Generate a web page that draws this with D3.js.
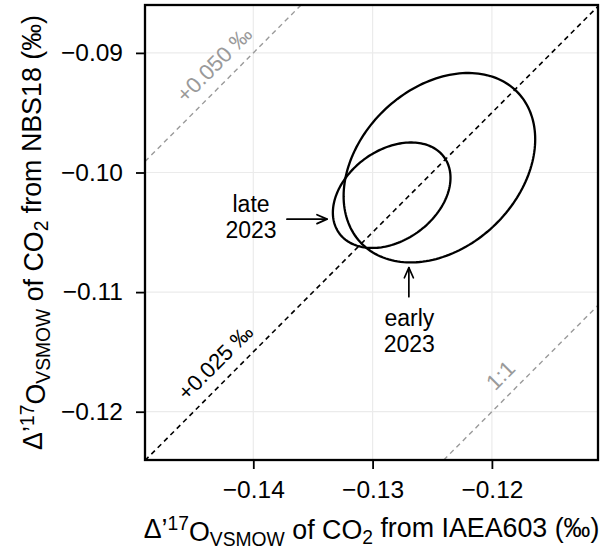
<!DOCTYPE html>
<html>
<head>
<meta charset="utf-8">
<script src="https://cdn.jsdelivr.net/npm/d3@7"></script>
<style>
  body { margin: 0; background: #fff; }
  text { font-family: "Liberation Sans", Arial, Helvetica, sans-serif; }
</style>
</head>
<body>
<svg id="chart" width="600" height="550"></svg>
<script>
// Axis ticks
const xTicks = [-0.14, -0.13, -0.12];
const yTicks = [-0.12, -0.11, -0.10, -0.09];

// Reference lines y = x + offset
const lineOffsets = [0, 0.025, 0.05];
const lineLabels = ["1:1", "+0.025 \u2030", "+0.050 \u2030"];
const lineLabelX = [-0.11811, -0.14202, -0.14212];
const lineColors = ["#9a9a9a", "#000000", "#9a9a9a"];

// Confidence ellipses per measurement period
const periods = ["early 2023", "late 2023"];
const centerX = [-0.1244, -0.1284];
const centerY = [-0.0996, -0.1019];
const halfWidth = [0.00803, 0.00493];
const halfHeight = [0.00792, 0.00441];
const corr = [0.30, 0.33];

// Annotation arrows and their labels
const labelLines = [["early", "2023"], ["late", "2023"]];
const arrowFromX = [-0.12696, -0.13718];
const arrowFromY = [-0.11039, -0.10390];
const arrowToX = [-0.12696, -0.13382];
const arrowToY = [-0.10796, -0.10390];
const labelX = [-0.12692, -0.14019];
const labelY = [-0.11287, -0.10331];

const svg = d3.select("#chart");
const panelL = 145, panelR = 598, panelT = 5, panelB = 460;

const x = d3.scaleLinear().domain([-0.149078, -0.111106]).range([panelL, panelR]);
const y = d3.scaleLinear().domain([-0.124038, -0.085995]).range([panelB, panelT]);

svg.append("defs").append("clipPath").attr("id", "panel")
  .append("rect").attr("x", panelL).attr("y", panelT)
  .attr("width", panelR - panelL).attr("height", panelB - panelT);

// grid
const grid = svg.append("g");
grid.selectAll(".gx").data(xTicks).join("line")
  .attr("x1", d => x(d)).attr("x2", d => x(d))
  .attr("y1", panelT).attr("y2", panelB)
  .attr("stroke", "#ebebeb").attr("stroke-width", 1.2);
grid.selectAll(".gy").data(yTicks).join("line")
  .attr("y1", d => y(d)).attr("y2", d => y(d))
  .attr("x1", panelL).attr("x2", panelR)
  .attr("stroke", "#ebebeb").attr("stroke-width", 1.2);

const plot = svg.append("g").attr("clip-path", "url(#panel)");

// reference lines
const [x0, x1] = x.domain();
lineOffsets.forEach((off, i) => {
  plot.append("line")
    .attr("x1", x(x0)).attr("y1", y(x0 + off))
    .attr("x2", x(x1)).attr("y2", y(x1 + off))
    .attr("stroke", lineColors[i])
    .attr("stroke-width", i === 1 ? 1.6 : 1.4)
    .attr("stroke-dasharray", "5,4");
});

// line labels, set along each line
lineOffsets.forEach((off, i) => {
  const lx = lineLabelX[i];
  const px = x(lx), py = y(lx + off);
  const ang = Math.atan2(y(lx + 0.01 + off) - py, x(lx + 0.01) - px) * 180 / Math.PI;
  plot.append("text")
    .attr("transform", `translate(${px},${py}) rotate(${ang})`)
    .attr("x", 0).attr("y", -12)
    .attr("text-anchor", "middle")
    .attr("font-size", 22)
    .attr("fill", lineColors[i])
    .text(lineLabels[i]);
});

// ellipses
const steps = d3.range(0, 361, 2).map(d => d * Math.PI / 180);
const ellipseLine = d3.line().x(p => x(p[0])).y(p => y(p[1])).curve(d3.curveLinearClosed);
periods.forEach((p, i) => {
  const phase = Math.acos(corr[i]);
  const pts = steps.map(t => [centerX[i] + halfWidth[i] * Math.cos(t),
                              centerY[i] + halfHeight[i] * Math.cos(t - phase)]);
  plot.append("path")
    .attr("d", ellipseLine(pts))
    .attr("fill", "none").attr("stroke", "#000").attr("stroke-width", 2.3);
});

// arrows and labels
periods.forEach((p, i) => {
  const ax = x(arrowFromX[i]), ay = y(arrowFromY[i]);
  const bx = x(arrowToX[i]), by = y(arrowToY[i]);
  const g = svg.append("g").attr("stroke", "#000").attr("stroke-width", 1.7)
    .attr("fill", "none").attr("stroke-linecap", "round").attr("stroke-linejoin", "round");
  g.append("line").attr("x1", ax).attr("y1", ay).attr("x2", bx).attr("y2", by);
  const a = Math.atan2(by - ay, bx - ax);
  const len = 11, spread = 0.42;
  g.append("polyline").attr("points", [
    [bx - len * Math.cos(a - spread), by - len * Math.sin(a - spread)],
    [bx, by],
    [bx - len * Math.cos(a + spread), by - len * Math.sin(a + spread)]
  ].map(q => q.join(",")).join(" "));
  const t = svg.append("text").attr("text-anchor", "middle").attr("font-size", 23).attr("fill", "#000");
  labelLines[i].forEach((s, k) => {
    t.append("tspan").attr("x", x(labelX[i])).attr("y", y(labelY[i]) + k * 26).text(s);
  });
});

// panel border
svg.append("rect").attr("x", panelL).attr("y", panelT)
  .attr("width", panelR - panelL).attr("height", panelB - panelT)
  .attr("fill", "none").attr("stroke", "#000").attr("stroke-width", 2.3);

// axes
const fmt = d3.format(".2f");
const xAxis = svg.append("g").attr("transform", `translate(0,${panelB})`)
  .call(d3.axisBottom(x).tickValues(xTicks).tickSize(9).tickPadding(12).tickFormat(fmt));
const yAxis = svg.append("g").attr("transform", `translate(${panelL},0)`)
  .call(d3.axisLeft(y).tickValues(yTicks).tickSize(9).tickPadding(13).tickFormat(fmt));
[xAxis, yAxis].forEach(ax => {
  ax.select(".domain").remove();
  ax.selectAll(".tick line").attr("stroke", "#000").attr("stroke-width", 1.8);
  ax.selectAll(".tick text").attr("font-size", 24.5).attr("fill", "#000")
    .style("font-family", '"Liberation Sans", Arial, Helvetica, sans-serif');
});

// axis titles, centred on the panel
function title(sel, source) {
  sel.append("tspan").text("\u0394\u2019");
  sel.append("tspan").attr("font-size", "0.72em").attr("dy", "-0.42em").text("17");
  sel.append("tspan").attr("dy", "0.42em").text("O");
  sel.append("tspan").attr("font-size", "0.72em").attr("dy", "0.25em").text("VSMOW");
  sel.append("tspan").attr("dy", "-0.25em").text(" of CO");
  sel.append("tspan").attr("font-size", "0.72em").attr("dy", "0.25em").text("2");
  sel.append("tspan").attr("dy", "-0.25em").text(` from ${source} (\u2030)`);
}
const xt = svg.append("text").attr("x", (panelL + panelR) / 2).attr("y", 538)
  .attr("text-anchor", "middle").attr("font-size", 26.8).attr("fill", "#000");
title(xt, "IAEA603");
const yt = svg.append("text")
  .attr("transform", `translate(42,${(panelT + panelB) / 2}) rotate(-90)`)
  .attr("text-anchor", "middle").attr("font-size", 26.8).attr("fill", "#000");
title(yt, "NBS18");
</script>
</body>
</html>
